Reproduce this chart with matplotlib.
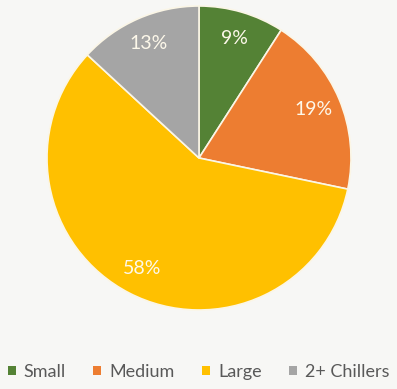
import matplotlib.pyplot as plt
from matplotlib.patches import Patch

labels = ["Small", "Medium", "Large", "2+ Chillers"]
shares = [9, 19, 58, 13]
colors = ["#548235", "#ED7D31", "#FFC000", "#A5A5A5"]

plt.rcParams["font.family"] = ["Lato", "DejaVu Sans"]

fig = plt.figure(figsize=(3.97, 3.89), dpi=100)
fig.patch.set_facecolor("#f7f7f5")

ax = fig.add_axes([0.1184, 0.2031, 0.7657, 0.7815])
wedges, texts, autotexts = ax.pie(
    shares,
    colors=colors,
    startangle=90,
    counterclock=False,
    autopct=lambda p: "{:.0f}%".format(p * sum(shares) / 100),
    pctdistance=0.82,
    wedgeprops=dict(edgecolor="#fbf6e6", linewidth=1.2),
    textprops=dict(color="#fdf8ea", fontsize=14),
)
ax.set_xlim(-1, 1)
ax.set_ylim(-1, 1)
ax.set_aspect("equal")

handles = [Patch(facecolor=c, edgecolor="none") for c in colors]
leg = fig.legend(
    handles, labels,
    loc="center", bbox_to_anchor=(0.5, 0.044), ncol=4,
    frameon=False, fontsize=13,
    handlelength=0.45, handleheight=0.45, handletextpad=0.45,
    columnspacing=1.5, borderpad=0, borderaxespad=0,
)
for t in leg.get_texts():
    t.set_color("#595959")

fig.savefig("out.png", dpi=100, facecolor=fig.get_facecolor())
